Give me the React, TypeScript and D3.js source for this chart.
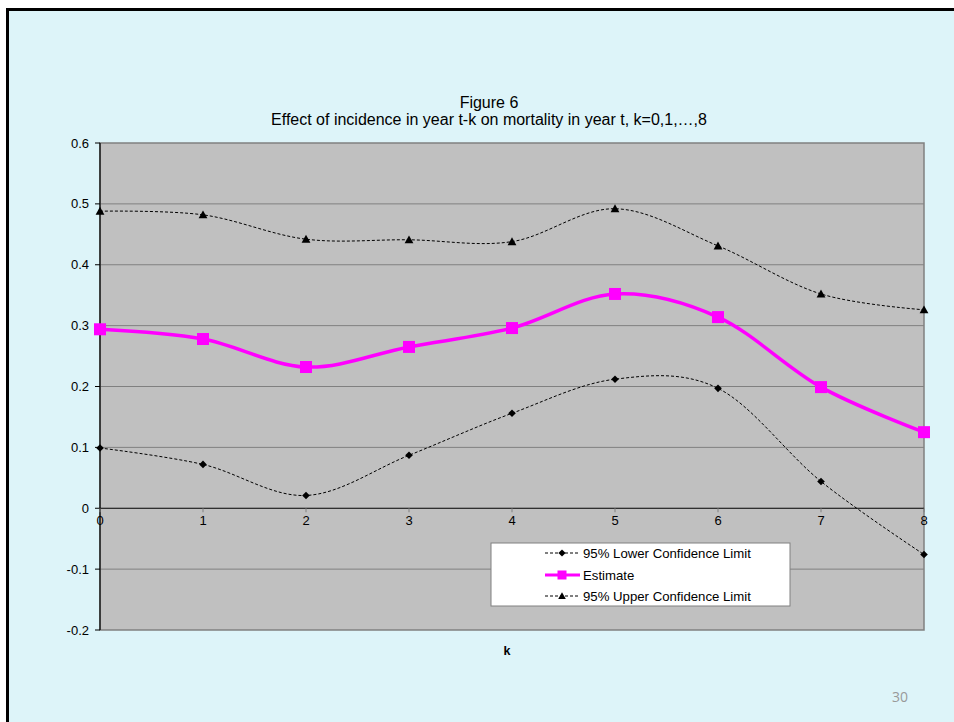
import React from "react";
import * as d3 from "d3";

const ks = [0, 1, 2, 3, 4, 5, 6, 7, 8];
const lower = [0.099, 0.072, 0.021, 0.087, 0.156, 0.212, 0.197, 0.044, -0.076];
const estimate = [0.294, 0.278, 0.232, 0.265, 0.296, 0.352, 0.314, 0.199, 0.125];
const upper = [0.488, 0.482, 0.442, 0.441, 0.438, 0.492, 0.431, 0.352, 0.326];
const yTicks = [-0.2, -0.1, 0, 0.1, 0.2, 0.3, 0.4, 0.5, 0.6];
const titleLines = ["Figure 6", "Effect of incidence in year t-k on mortality in year t, k=0,1,\u2026,8"];
const legendLabels = ["95% Lower Confidence Limit", "Estimate", "95% Upper Confidence Limit"];

const W = 954, H = 722;
const L = 100, R = 924, T = 143, B = 630;
const font = "Arial, 'Liberation Sans', sans-serif";

export default function App() {
  const x = d3.scaleLinear().domain([0, 8]).range([L, R]);
  const y = d3.scaleLinear().domain([-0.2, 0.6]).range([B, T]);
  const line = d3
    .line<number>()
    .x((_, i) => x(ks[i]))
    .y((d) => y(d))
    .curve(d3.curveCardinal.tension(0));

  const diamond = (cx: number, cy: number, r = 3.8) =>
    `M${cx},${cy - r}L${cx + r},${cy}L${cx},${cy + r}L${cx - r},${cy}Z`;
  const tri = (cx: number, cy: number, r = 4.4) =>
    `M${cx},${cy - r}L${cx + r},${cy + r * 0.8}L${cx - r},${cy + r * 0.8}Z`;

  const lx0 = 545, lx1 = 580, lmx = 562;
  const ly = [553, 575, 596];
  const fmt = (v: number) => (v === 0 ? "0" : String(Math.round(v * 10) / 10));

  return (
    <svg width={W} height={H} style={{ position: "absolute", left: 0, top: 0 }}>
      <rect x={0} y={0} width={W} height={H} fill="#ffffff" />
      <rect x={6} y={8} width={W - 6} height={H - 8} fill="#000000" />
      <rect x={9} y={11} width={W - 9} height={H - 11} fill="#DDF4F9" />

      {titleLines.map((t, i) => (
        <text key={i} x={489} y={108 + i * 17} textAnchor="middle" fontFamily={font} fontSize={16} fill="#000">
          {t}
        </text>
      ))}

      <rect x={L} y={T} width={R - L} height={B - T} fill="#C0C0C0" stroke="#808080" strokeWidth={1.5} />
      {yTicks.map((v) => (
        <g key={v}>
          {v !== 0 && v !== -0.2 && v !== 0.6 && (
            <line x1={L} x2={R} y1={y(v)} y2={y(v)} stroke="#808080" strokeWidth={1} />
          )}
          <line x1={L - 5} x2={L} y1={y(v)} y2={y(v)} stroke="#000" strokeWidth={1} />
          <text x={89} y={y(v) + 4.5} textAnchor="end" fontFamily={font} fontSize={13} fill="#000">
            {fmt(v)}
          </text>
        </g>
      ))}
      <line x1={L} x2={L} y1={T} y2={B} stroke="#000" strokeWidth={1.2} />
      <line x1={L} x2={R} y1={y(0)} y2={y(0)} stroke="#000" strokeWidth={1.2} />
      {ks.map((k) => (
        <g key={k}>
          <line x1={x(k)} x2={x(k)} y1={y(0)} y2={y(0) + 4} stroke="#808080" strokeWidth={1} />
          <text x={x(k)} y={y(0) + 17} textAnchor="middle" fontFamily={font} fontSize={13} fill="#000">
            {k}
          </text>
        </g>
      ))}

      <path d={line(lower) || ""} fill="none" stroke="#000" strokeWidth={1} strokeDasharray="3,2" />
      <path d={line(upper) || ""} fill="none" stroke="#000" strokeWidth={1} strokeDasharray="3,2" />
      <path d={line(estimate) || ""} fill="none" stroke="#FF00FF" strokeWidth={3.5} />
      {lower.map((v, i) => (
        <path key={"l" + i} d={diamond(x(ks[i]), y(v))} fill="#000" />
      ))}
      {upper.map((v, i) => (
        <path key={"u" + i} d={tri(x(ks[i]), y(v))} fill="#000" />
      ))}
      {estimate.map((v, i) => (
        <rect key={"e" + i} x={x(ks[i]) - 6} y={y(v) - 6} width={12} height={12} fill="#FF00FF" />
      ))}

      <rect x={491} y={543} width={299} height={63} fill="#fff" stroke="#808080" strokeWidth={1} />
      <line x1={lx0} x2={lx1} y1={ly[0]} y2={ly[0]} stroke="#000" strokeDasharray="3,2" />
      <path d={diamond(lmx, ly[0], 3.6)} fill="#000" />
      <line x1={lx0} x2={lx1} y1={ly[1]} y2={ly[1]} stroke="#FF00FF" strokeWidth={3} />
      <rect x={lmx - 4.5} y={ly[1] - 4.5} width={9} height={9} fill="#FF00FF" />
      <line x1={lx0} x2={lx1} y1={ly[2]} y2={ly[2]} stroke="#000" strokeDasharray="3,2" />
      <path d={tri(lmx, ly[2], 3.8)} fill="#000" />
      {legendLabels.map((t, i) => (
        <text key={t} x={583} y={ly[i] + 4.5} fontFamily={font} fontSize={13.2} fill="#000">
          {t}
        </text>
      ))}

      <text x={507} y={655} textAnchor="middle" fontFamily={font} fontSize={12.5} fontWeight="bold" fill="#000">
        k
      </text>
      <text x={900} y={702} textAnchor="middle" fontFamily="'Open Sans', sans-serif" fontSize={14} fill="#999">
        30
      </text>
    </svg>
  );
}
